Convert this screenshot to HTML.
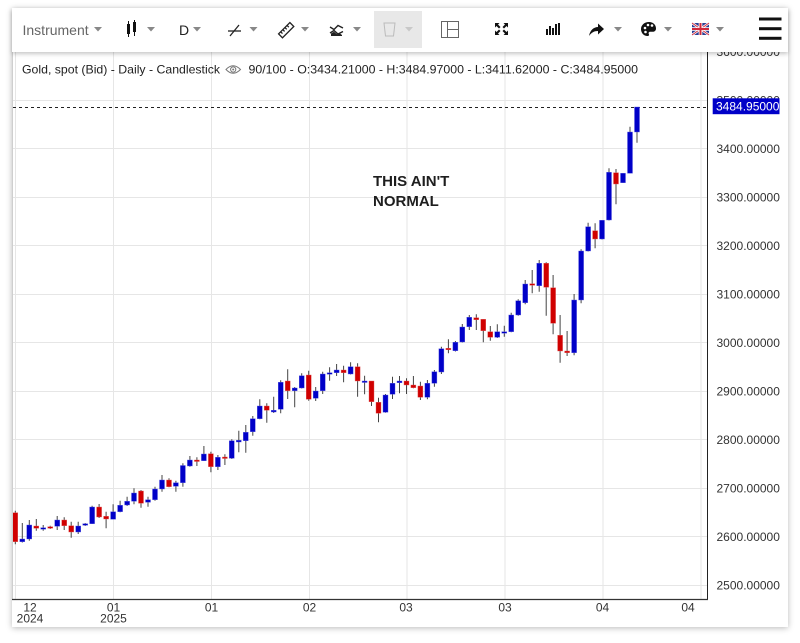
<!DOCTYPE html>
<html><head><meta charset="utf-8"><style>
html,body{margin:0;padding:0;background:#fff;width:800px;height:643px;overflow:hidden;font-family:"Liberation Sans",Arial,sans-serif;}
.card{position:absolute;left:12px;top:8px;width:776px;height:619px;background:#fff;box-shadow:0 1px 6px rgba(0,0,0,0.28);}
#chart{position:absolute;left:0;top:0;}
.tb{position:absolute;left:12px;top:8px;width:776px;height:44px;background:#fff;box-shadow:0 2px 4px rgba(0,0,0,0.22);}
.tb svg{position:absolute;left:0;top:0;}
</style></head><body>
<div class="card"></div>
<svg id="chart" width="800" height="643" viewBox="0 0 800 643" xmlns="http://www.w3.org/2000/svg">
<defs><clipPath id="pc"><rect x="13" y="52" width="694" height="547"/></clipPath></defs>
<g stroke="#e6e6e6" stroke-width="1">
<path d="M15.5 52V599M113.5 52V599M211.5 52V599M309.5 52V599M407 52V599M505 52V599M603 52V599M701 52V599"/>
<path d="M13 585.5H707M13 536.5H707M13 488.5H707M13 439.5H707M13 391.5H707M13 342.5H707M13 294.5H707M13 245.5H707M13 197.5H707M13 148.5H707M13 100.5H707M13 51.5H707"/>
</g>
<line x1="12.5" y1="52" x2="12.5" y2="599" stroke="#cfcfcf"/>
<line x1="13" y1="107.5" x2="707" y2="107.5" stroke="#222" stroke-dasharray="3,3"/>
<g clip-path="url(#pc)">
<path stroke="#444" stroke-width="1" fill="none" d="M15.3 510.7V544.3M22.3 523V542.5M29.3 520V540.7M36.3 519V530.7M43.2 525V530.7M50.2 525.7V529M57.2 516V530M64.2 517.3V530M71.2 521.7V537.7M78.2 521.7V534M85.2 523V526M92.1 505.7V524M99.1 504V518M106.1 511.7V528.3M113.1 504.3V519.3M120.1 500.7V512.3M127.1 496.7V506M134 488.3V504.3M141 490V507.7M148 496.7V506.7M155 486.7V500.7M162 475V491.7M169 478.3V487.3M175.9 480.7V491.7M182.9 463.3V486.7M189.9 456V466.7M196.9 457.3V466M203.9 446V461M210.9 451.7V472.3M217.9 455V470M224.9 454.3V465M231.8 439.3V459M238.8 430.7V452.3M245.8 425V452.7M252.8 416V435.7M259.8 399.3V419.3M266.8 403.3V422.7M273.7 396.7V413M280.7 380.3V413.3M287.7 369.3V399M294.7 387V407.3M301.7 373.3V388.5M308.7 370.7V400.7M315.7 387V401M322.7 371.7V394M329.6 367.3V380.7M336.6 364V376M343.6 365.7V382.3M350.6 362.3V374.5M357.6 363.3V396.7M364.6 375.7V394.3M371.5 381V406M378.5 397.7V422.3M385.5 394V412.8M392.5 376.7V399M399.5 376V393.3M406.5 378.3V394M413.4 376V388.3M420.4 381.7V400M427.4 380V399.3M434.4 370V386.7M441.4 346.7V374M448.4 339.3V353.3M455.4 341V351.5M462.3 324V342.5M469.3 315V330M476.3 314.3V330M483.3 319.3V342.3M490.3 326V340.7M497.3 324.3V338M504.3 325.7V336.7M511.2 312.7V332.3M518.2 299.3V315.7M525.2 280V304.3M532.2 270V293.3M539.2 260V291.7M546.2 262.3V315.7M553.1 275V334.3M560.1 315V362.7M567.1 331V356M574.1 294V355.3M581.1 249.3V303.3M588.1 222.7V251.5M595.1 223.3V248.3M602 220.3V239.5M609 168.3V220.5M616 169V204.3M623 173.3V183M630 126.7V173.5M637 107V142.7"/>
<g fill="#0000c8" stroke="#5a5ae0" stroke-width="0.4">
<rect x="19.8" y="539" width="5" height="2.7"/>
<rect x="26.8" y="525" width="5" height="14"/>
<rect x="40.7" y="527.7" width="5" height="1.5"/>
<rect x="54.7" y="520" width="5" height="6.3"/>
<rect x="75.7" y="526" width="5" height="6"/>
<rect x="82.7" y="523.7" width="5" height="1.6"/>
<rect x="89.6" y="507" width="5" height="16.7"/>
<rect x="110.6" y="511.7" width="5" height="7.6"/>
<rect x="117.6" y="505.3" width="5" height="6.4"/>
<rect x="124.6" y="501.3" width="5" height="3.7"/>
<rect x="131.5" y="493" width="5" height="8.3"/>
<rect x="145.5" y="499.7" width="5" height="2.6"/>
<rect x="152.5" y="489" width="5" height="10.7"/>
<rect x="159.5" y="480" width="5" height="9"/>
<rect x="173.4" y="482.7" width="5" height="3.6"/>
<rect x="180.4" y="465.5" width="5" height="17.2"/>
<rect x="187.4" y="460" width="5" height="6"/>
<rect x="201.4" y="454" width="5" height="6.7"/>
<rect x="215.4" y="457.3" width="5" height="9.4"/>
<rect x="229.3" y="440.7" width="5" height="17.6"/>
<rect x="236.3" y="440.3" width="5" height="1.7"/>
<rect x="243.3" y="432.3" width="5" height="8.4"/>
<rect x="250.3" y="418.7" width="5" height="13"/>
<rect x="257.3" y="406" width="5" height="12.7"/>
<rect x="271.2" y="410.3" width="5" height="1.7"/>
<rect x="278.2" y="382.3" width="5" height="27"/>
<rect x="292.2" y="388" width="5" height="2.7"/>
<rect x="299.2" y="375.7" width="5" height="12.3"/>
<rect x="313.2" y="391" width="5" height="7.3"/>
<rect x="320.2" y="374" width="5" height="16.7"/>
<rect x="327.1" y="372.7" width="5" height="1.5"/>
<rect x="334.1" y="370" width="5" height="2.7"/>
<rect x="348.1" y="366.7" width="5" height="7.3"/>
<rect x="362.1" y="381" width="5" height="1.5"/>
<rect x="383" y="395" width="5" height="17.3"/>
<rect x="390" y="383.3" width="5" height="11"/>
<rect x="397" y="381" width="5" height="1.7"/>
<rect x="424.9" y="383.3" width="5" height="14"/>
<rect x="431.9" y="371.7" width="5" height="11.6"/>
<rect x="438.9" y="348.7" width="5" height="23.3"/>
<rect x="452.9" y="342.3" width="5" height="8.4"/>
<rect x="459.8" y="327" width="5" height="15"/>
<rect x="466.8" y="317.3" width="5" height="9.4"/>
<rect x="494.8" y="331.7" width="5" height="5.6"/>
<rect x="501.8" y="331.7" width="5" height="1.5"/>
<rect x="508.7" y="315" width="5" height="16.7"/>
<rect x="515.7" y="300.7" width="5" height="14.3"/>
<rect x="522.7" y="284" width="5" height="18.7"/>
<rect x="536.7" y="263.3" width="5" height="22.4"/>
<rect x="571.6" y="300" width="5" height="52.7"/>
<rect x="578.6" y="251" width="5" height="49"/>
<rect x="585.6" y="226.7" width="5" height="24.3"/>
<rect x="599.5" y="220.3" width="5" height="18.7"/>
<rect x="606.5" y="172.3" width="5" height="47.7"/>
<rect x="620.5" y="173.3" width="5" height="9.4"/>
<rect x="627.5" y="132" width="5" height="41.3"/>
<rect x="634.5" y="107" width="5" height="25"/>
</g>
<g fill="#d00000" stroke="#e06060" stroke-width="0.4">
<rect x="12.8" y="512.7" width="5" height="29"/>
<rect x="33.8" y="526" width="5" height="2.3"/>
<rect x="47.7" y="526.7" width="5" height="1.5"/>
<rect x="61.7" y="520" width="5" height="5.7"/>
<rect x="68.7" y="525.7" width="5" height="6.3"/>
<rect x="96.6" y="507" width="5" height="10"/>
<rect x="103.6" y="516.3" width="5" height="2.7"/>
<rect x="138.5" y="491" width="5" height="12.3"/>
<rect x="166.5" y="480" width="5" height="6.7"/>
<rect x="194.4" y="460" width="5" height="1.5"/>
<rect x="208.4" y="453.7" width="5" height="13"/>
<rect x="222.4" y="457" width="5" height="1.5"/>
<rect x="264.3" y="406" width="5" height="4.3"/>
<rect x="285.2" y="381" width="5" height="9.7"/>
<rect x="306.2" y="375" width="5" height="24.3"/>
<rect x="341.1" y="370" width="5" height="2.7"/>
<rect x="355.1" y="366.7" width="5" height="14.3"/>
<rect x="369" y="381" width="5" height="20.7"/>
<rect x="376" y="402.3" width="5" height="11"/>
<rect x="404" y="381" width="5" height="4"/>
<rect x="410.9" y="385" width="5" height="2.7"/>
<rect x="417.9" y="386" width="5" height="11.3"/>
<rect x="445.9" y="348.3" width="5" height="1.5"/>
<rect x="473.8" y="317.7" width="5" height="2"/>
<rect x="480.8" y="319.3" width="5" height="11.4"/>
<rect x="487.8" y="331.7" width="5" height="5.6"/>
<rect x="529.7" y="283.7" width="5" height="1.6"/>
<rect x="543.7" y="263.3" width="5" height="24"/>
<rect x="550.6" y="287.7" width="5" height="35.6"/>
<rect x="557.6" y="335.3" width="5" height="15.7"/>
<rect x="564.6" y="351" width="5" height="1.7"/>
<rect x="592.6" y="230.7" width="5" height="8.3"/>
<rect x="613.5" y="172.7" width="5" height="11.3"/>
</g>
</g>
<line x1="707.5" y1="52" x2="707.5" y2="600" stroke="#222" stroke-width="1"/>
<line x1="12" y1="599.5" x2="708" y2="599.5" stroke="#333" stroke-width="1.2"/>
<g font-family="Liberation Sans, Arial, sans-serif" font-size="12" fill="#333">
<text x="716.5" y="56">3600.00000</text>
<text x="716.5" y="104.6">3500.00000</text>
<text x="716.5" y="153">3400.00000</text>
<text x="716.5" y="201.6">3300.00000</text>
<text x="716.5" y="250">3200.00000</text>
<text x="716.5" y="298.6">3100.00000</text>
<text x="716.5" y="347">3000.00000</text>
<text x="716.5" y="395.6">2900.00000</text>
<text x="716.5" y="444">2800.00000</text>
<text x="716.5" y="492.6">2700.00000</text>
<text x="716.5" y="541">2600.00000</text>
<text x="716.5" y="589.6">2500.00000</text>
</g>
<rect x="712.7" y="98.3" width="66.8" height="15.9" fill="#0000c8"/>
<text x="716" y="110.6" font-family="Liberation Sans, Arial, sans-serif" font-size="12" fill="#fff">3484.95000</text>
<g font-family="Liberation Sans, Arial, sans-serif" font-size="12" fill="#333" text-anchor="middle">
<text x="30" y="611.5">12</text><text x="30" y="622.5">2024</text>
<text x="113.5" y="611.5">01</text><text x="113.5" y="622.5">2025</text>
<text x="211.5" y="611.5">01</text>
<text x="309.5" y="611.5">02</text>
<text x="406" y="611.5">03</text>
<text x="505" y="611.5">03</text>
<text x="602.5" y="611.5">04</text>
<text x="688" y="611.5">04</text>
</g>
<g font-family="Liberation Sans, Arial, sans-serif" font-size="12" fill="#222">
<text x="22" y="73.5" textLength="198" lengthAdjust="spacingAndGlyphs">Gold, spot (Bid) - Daily - Candlestick</text>
<text x="248.5" y="73.5" textLength="389.5" lengthAdjust="spacingAndGlyphs">90/100 - O:3434.21000 - H:3484.97000 - L:3411.62000 - C:3484.95000</text>
</g>
<g fill="none" stroke="#777" stroke-width="1">
<path d="M226 69.5Q233 62 240.5 69.5Q233 77 226 69.5Z"/>
<circle cx="233.2" cy="69.5" r="2.6"/>
</g>
<circle cx="233.2" cy="69.5" r="1" fill="#777"/>
<g font-family="Liberation Sans, Arial, sans-serif" font-size="15" font-weight="bold" fill="#1e1e1e">
<text x="373" y="186">THIS AIN'T</text>
<text x="373" y="206">NORMAL</text>
</g>
</svg>
<div class="tb">
<svg width="776" height="44" viewBox="12 8 776 44" xmlns="http://www.w3.org/2000/svg">
<text x="22.5" y="35" font-family="Liberation Sans, Arial, sans-serif" font-size="14" fill="#666">Instrument</text>
<g fill="#888">
<path d="M94 27h8l-4 4.5z"/>
<path d="M147 27h8l-4 4.5z"/>
<path d="M193 27h8l-4 4.5z"/>
<path d="M249.5 27h8l-4 4.5z"/>
<path d="M301 27h8l-4 4.5z"/>
<path d="M353 27h8l-4 4.5z"/>
<path d="M614 27h8l-4 4.5z"/>
<path d="M664 27h8l-4 4.5z"/>
<path d="M716 27h8l-4 4.5z"/>
</g>
<rect x="374" y="11" width="48" height="37" fill="#e8e8e8"/>
<path d="M405 27h8l-4 4.5z" fill="#c8c8c8"/>
<path d="M384 23h11l-1.5 13h-8z" fill="none" stroke="#bbb" stroke-width="1"/>
<!-- candle icon -->
<g fill="#111" stroke="#111">
<line x1="128.5" y1="21" x2="128.5" y2="37" stroke-width="1"/>
<rect x="127" y="24" width="3" height="10" stroke="none"/>
<line x1="134.5" y1="20" x2="134.5" y2="36" stroke-width="1"/>
<rect x="133" y="22" width="3" height="10" stroke="none"/>
</g>
<text x="179" y="35" font-family="Liberation Sans, Arial, sans-serif" font-size="14" fill="#222">D</text>
<!-- line tool -->
<g stroke="#222" stroke-width="1.3" fill="none">
<line x1="228" y1="31" x2="241" y2="31"/>
<line x1="230" y1="36" x2="239" y2="25"/>
</g>
<!-- ruler -->
<g transform="rotate(-45 286 30)" stroke="#222" fill="none" stroke-width="1.3">
<rect x="278" y="27.5" width="16" height="5.5"/>
<path d="M281 27.5v2.5M284 27.5v2.5M287 27.5v2.5M290 27.5v2.5"/>
</g>
<!-- indicator icon -->
<g stroke="#222" stroke-width="1.4" fill="none">
<path d="M330 27l4 2.5 4-4 5 2.5"/>
<path d="M330 33l4-2.5 4 3.5 5-2.5"/>
</g>
<path d="M331 33.5l3-1.8 3 2.6 3-0.8 2 1.5v1h-11z" fill="#222"/>
<!-- crosshair box -->
<g stroke="#666" stroke-width="1" fill="none">
<rect x="441.5" y="21.5" width="17" height="16"/>
<line x1="447.5" y1="21.5" x2="447.5" y2="37.5"/>
<line x1="447.5" y1="29.5" x2="458.5" y2="29.5"/>
</g>
<!-- expand -->
<g fill="#111">
<path d="M495 23h4.5l-1.5 1.5 2.5 2.5-1.5 1.5-2.5-2.5-1.5 1.5z"/>
<path d="M508 23h-4.5l1.5 1.5-2.5 2.5 1.5 1.5 2.5-2.5 1.5 1.5z"/>
<path d="M495 35h4.5l-1.5-1.5 2.5-2.5-1.5-1.5-2.5 2.5-1.5-1.5z"/>
<path d="M508 35h-4.5l1.5-1.5-2.5-2.5 1.5-1.5 2.5 2.5 1.5-1.5z"/>
</g>
<!-- bars -->
<g fill="#111">
<rect x="546" y="29" width="2" height="6"/>
<rect x="549" y="26" width="2" height="9"/>
<rect x="552" y="28" width="2" height="7"/>
<rect x="555" y="24" width="2" height="11"/>
<rect x="558" y="23" width="2" height="12"/>
</g>
<!-- share arrow -->
<path d="M589 36c1-6 5-9 9-9v-3.5l6 5.5-6 5.5v-3.5c-4 0-6.5 1.5-9 5z" fill="#111"/>
<!-- palette -->
<path d="M649 22c-4.5 0-8 3-8 7.2 0 3.5 2.8 6.8 6.5 6.8 1.5 0 1.8-1 1.3-2-0.6-1.2 0.2-2.2 1.5-2.2h2.2c2.3 0 3.5-1.3 3.5-3.3 0-3.8-3-6.5-7-6.5z" fill="#111"/>
<g fill="#fff"><circle cx="645" cy="28" r="1.3"/><circle cx="648" cy="25" r="1.3"/><circle cx="652" cy="25.5" r="1.3"/><circle cx="645.5" cy="32" r="1.3"/></g>
<!-- UK flag -->
<g>
<rect x="692" y="23" width="17" height="12" fill="#2a3e94"/>
<path d="M692 23l17 12M709 23l-17 12" stroke="#fff" stroke-width="2.4"/>
<path d="M692 23l17 12M709 23l-17 12" stroke="#d0283a" stroke-width="0.9"/>
<path d="M700.5 23v12M692 29h17" stroke="#fff" stroke-width="3.6"/>
<path d="M700.5 23v12M692 29h17" stroke="#d0283a" stroke-width="2"/>
</g>
<!-- hamburger -->
<g fill="#111">
<rect x="759" y="17.5" width="22.5" height="3"/>
<rect x="759" y="27.2" width="22.5" height="3"/>
<rect x="759" y="36.8" width="22.5" height="3"/>
</g>
</svg>
</div>
</body></html>
